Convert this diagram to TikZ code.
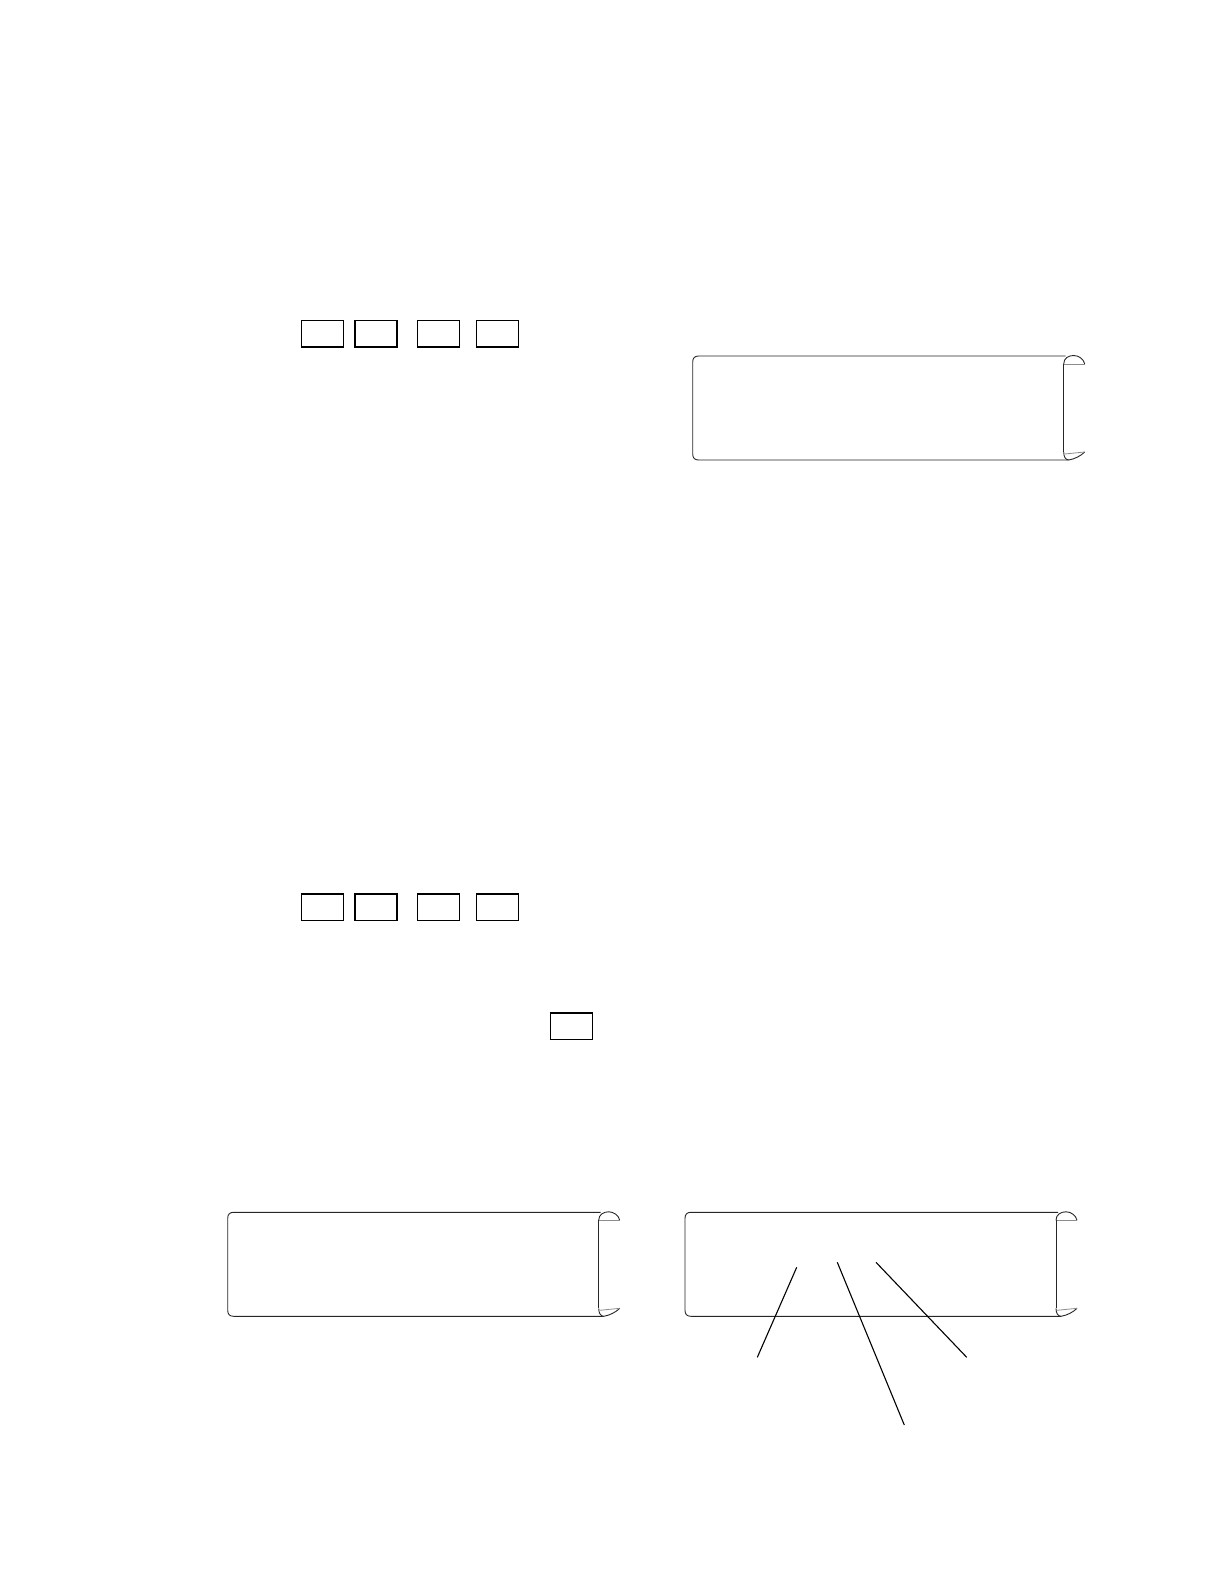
\documentclass[tikz,border=0pt]{standalone}
\begin{document}
\begin{tikzpicture}[x=0.5pt,y=-0.5pt,
  smallbox/.style={draw,line width=0.7pt,minimum width=21pt,minimum height=13.2pt,inner sep=0pt},
  scrline/.style={line width=0.45pt,draw=black!85},
  chord/.style={line width=0.4pt,draw=black!45},
  leader/.style={line width=0.55pt},
  scroll/.pic={
    \draw[scrline] (373,0) -- (6,0) .. controls (2,0) and (0,2) .. (0,6) -- (0,98)
      .. controls (0,102) and (2,104) .. (6,104) -- (376,104);
    \draw[scrline] (371,8) .. controls (371,2) and (376,-0.5) .. (381,-0.5)
      .. controls (386,-0.5) and (391,3) .. (392,8);
    \draw[chord] (371,8) -- (392,8);
    \draw[scrline] (371,8) -- (371,96);
    \draw[scrline] (371,96) .. controls (371,101) and (373,104) .. (376,104)
      .. controls (382,103) and (388,100) .. (392,96);
    \draw[chord] (372,98) -- (392,96);
  }]
\useasboundingbox (0,0) rectangle (1224,1584);
% top row boxes
\node[smallbox] (t1) at (322.3,333.8) {};
\node[smallbox] (t2) at (375.8,333.8) {};
\node[smallbox] (t3) at (438.3,333.8) {};
\node[smallbox] (t4) at (497.3,333.8) {};
% bottom row boxes
\node[smallbox] (u1) at (322.3,907.2) {};
\node[smallbox] (u2) at (375.8,907.2) {};
\node[smallbox] (u3) at (438.3,907.2) {};
\node[smallbox] (u4) at (497.3,907.2) {};
% single box
\node[smallbox] (s1) at (571.5,1026.3) {};
% scrolls
\pic at (692.7,356) {scroll};
\pic at (227.7,1212.3) {scroll};
\pic at (685,1212.3) {scroll};
% leader lines
\coordinate (a1) at (796.7,1267.3);
\coordinate (a2) at (757.3,1357.3);
\coordinate (b1) at (837.3,1262.3);
\coordinate (b2) at (904.3,1425);
\coordinate (c1) at (876,1262.3);
\coordinate (c2) at (966.7,1357.3);
\draw[leader] (a1) -- (a2);
\draw[leader] (b1) -- (b2);
\draw[leader] (c1) -- (c2);
\end{tikzpicture}
\end{document}
